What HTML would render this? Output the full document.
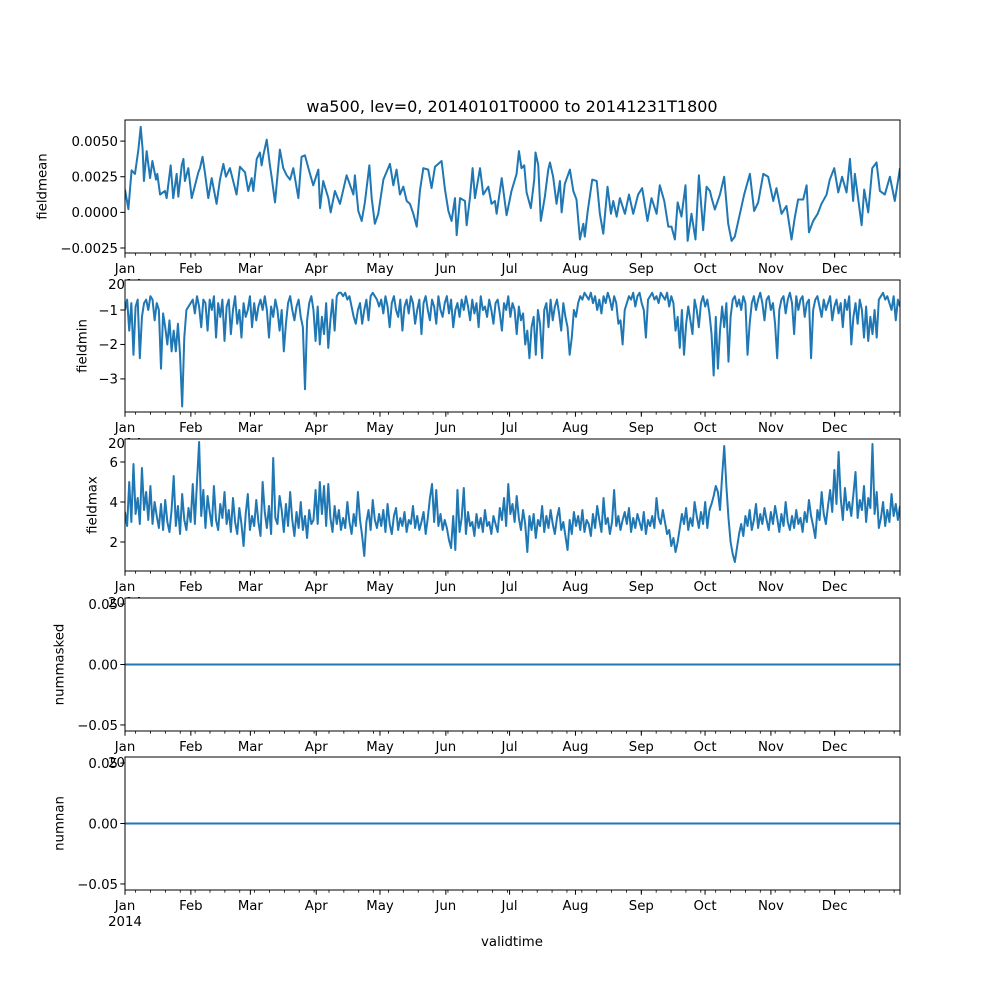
<!DOCTYPE html>
<html><head><meta charset="utf-8"><style>
html,body{margin:0;padding:0;background:#fff;}
svg{display:block;font-family:"DejaVu Sans","Liberation Sans",sans-serif;}
</style></head>
<body>
<svg id="fig" width="1000" height="1000" viewBox="0 0 1000 1000">
<rect width="1000" height="1000" fill="#fff"/>
<text x="512" y="112" font-size="16" text-anchor="middle">wa500, lev=0, 20140101T0000 to 20141231T1800</text>
<text x="512" y="946" font-size="13.3" text-anchor="middle">validtime</text>
</svg>
<script>
// ---- data ----
const monthLabels = ["Jan","Feb","Mar","Apr","May","Jun","Jul","Aug","Sep","Oct","Nov","Dec"];
const monthStartDays = [0,31,59,90,120,151,181,212,243,273,304,334];
const yearLabel = "2014";
const meanDays = [0,1.6,3.1,4.7,6.3,7.4,8.3,8.9,10.2,11.8,12.9,14.6,15.2,16.5,18.8,19.6,21.5,22.7,24.3,25.1,26.7,27.5,28.2,29.8,31.4,34.5,35.3,36.5,37.6,39.2,40.8,43.1,44.7,46.3,47.5,49.4,52.5,54.1,56.5,58.0,59.6,60.4,62.0,63.5,64.3,65.1,66.7,68.2,69.0,70.6,72.9,74.5,76.1,77.7,79.2,81.6,83.1,84.7,86.3,88.6,91.0,91.8,93.3,95.7,96.8,98.8,101.2,104.3,107.5,108.2,109.8,111.4,112.9,115.0,116.1,117.6,119.2,121.6,124.7,126.3,127.8,129.4,131.0,132.6,134.1,135.7,137.3,138.8,140.4,142.7,144.3,145.9,149.0,150.6,152.2,153.7,155.3,156.1,157.7,160.0,160.8,162.4,163.6,164.7,167.1,168.6,171.0,172.5,174.1,174.9,177.3,179.6,181.9,184.3,185.4,186.6,187.9,189.0,191.0,192.6,193.2,194.5,195.7,197.6,199.2,200.0,201.5,203.1,204.7,205.5,207.0,209.4,211.0,212.5,214.1,215.7,216.4,217.7,219.9,222.0,223.5,225.1,227.1,228.7,229.8,231.4,232.9,235.3,237.2,239.2,241.5,243.4,245.9,247.8,250.2,251.7,253.8,255.7,257.2,258.8,260.1,261.9,263.8,264.8,266.6,268.5,270.1,272.1,273.7,275.3,276.1,277.6,280.0,282.0,283.9,285.5,287.0,289.4,291.4,294.1,296.1,298.0,300.4,302.7,305.1,306.6,309.0,311.3,313.7,315.3,316.8,319.2,320.8,321.9,323.9,326.0,327.8,330.2,331.7,333.8,335.7,337.5,339.6,341.2,342.7,343.5,345.1,346.7,347.9,349.8,351.7,353.7,355.3,357.6,360.0,362.3,364.75];
const meanVals = [1.6,0.23,2.95,2.7,4.4,6.0,4.4,2.2,4.3,2.4,3.6,2.3,2.7,1.25,1.5,1.0,3.3,1.0,2.7,1.1,3.3,3.75,2.2,3.1,1.0,2.8,3.1,3.9,2.8,1.0,2.4,0.6,2.3,3.4,2.5,3.1,1.25,3.2,2.8,1.5,2.4,1.5,3.75,4.2,3.3,4.0,5.1,3.3,2.5,0.7,4.4,3.1,2.6,2.3,3.1,1.0,3.9,4.0,3.1,1.9,3.0,0.3,2.2,1.0,0.0,1.5,0.6,2.6,1.25,2.6,0.1,-0.6,0.7,3.3,1.0,-0.8,-0.1,2.3,3.4,1.9,3.0,1.25,1.8,0.8,0.6,-0.1,-1.0,1.5,3.1,3.0,1.7,3.2,3.6,1.6,0.1,-0.6,1.0,-1.6,1.0,0.8,-0.9,1.1,3.1,1.0,3.1,1.25,1.8,0.6,0.8,-0.1,2.4,-0.2,1.5,2.7,4.3,3.1,3.3,1.4,0.3,2.3,4.2,3.3,-0.6,1.1,3.0,3.5,2.5,0.6,2.2,0.0,2.0,3.0,1.5,0.9,-1.9,-0.8,-1.7,0.0,2.3,2.2,-0.1,-1.5,1.8,-0.1,0.8,-0.3,1.0,-0.1,1.25,-0.1,1.25,1.7,-0.6,1.0,-0.1,1.9,0.8,-1.0,-1.0,-1.9,0.7,-0.3,1.9,-2.0,-0.1,-1.9,2.6,-1.25,1.8,1.5,1.0,0.2,1.25,2.5,-0.8,-2.0,-1.7,-0.1,1.25,2.7,0.1,0.7,2.7,2.5,0.8,1.7,-0.1,0.45,-1.9,-0.3,0.9,0.9,1.9,-1.4,-0.6,-0.1,0.6,1.25,2.3,3.1,1.4,2.5,1.4,3.75,0.8,2.7,0.9,-0.9,1.6,0.0,3.1,3.5,1.5,1.25,2.5,0.8,3.1];
const minVals = [-1.0,-0.7,-1.6,-0.8,-2.3,-0.9,-0.7,-2.4,-1.2,-0.8,-0.7,-1.0,-0.6,-0.7,-1.3,-0.8,-1.0,-2.7,-1.1,-1.5,-2.0,-1.3,-2.2,-1.6,-2.2,-1.4,-2.3,-3.8,-1.8,-1.0,-0.9,
-0.8,-0.7,-1.1,-0.6,-0.9,-1.5,-0.7,-0.8,-1.6,-0.7,-1.0,-0.6,-1.8,-0.8,-1.2,-0.7,-1.9,-0.9,-0.7,-1.7,-1.0,-0.6,-1.4,-1.0,-1.8,-0.8,-1.2,-1.0,-0.6,-1.5,
-0.8,-1.3,-0.9,-0.7,-1.0,-0.6,-1.0,-1.8,-0.9,-1.2,-0.7,-1.0,-1.6,-1.0,-2.2,-1.4,-0.8,-0.6,-1.0,-1.3,-0.9,-0.7,-1.2,-1.5,-3.3,-1.3,-0.8,-0.6,-1.0,-1.9,
-0.9,-2.0,-1.2,-1.7,-0.8,-2.1,-1.3,-0.7,-1.6,-0.6,-0.5,-0.5,-0.6,-0.5,-0.7,-0.6,-0.9,-1.2,-1.4,-1.0,-0.8,-1.4,-1.0,-0.7,-1.3,-0.6,-0.5,-0.6,-0.7,-0.9,
-0.7,-1.1,-0.6,-0.9,-1.5,-0.8,-0.6,-1.0,-1.2,-0.7,-1.6,-0.9,-0.7,-1.1,-0.6,-0.8,-1.4,-1.0,-0.7,-1.7,-0.8,-0.6,-1.0,-1.3,-0.7,-0.9,-1.4,-0.6,-1.0,-1.2,
-0.8,-0.6,-1.1,-0.7,-1.5,-1.0,-0.8,-1.2,-0.7,-1.0,-0.6,-0.9,-1.3,-0.7,-1.1,-0.8,-1.5,-0.6,-1.0,-0.9,-1.2,-0.7,-1.0,-1.4,-0.8,-0.7,-1.1,-1.6,-0.8,-1.0,
-0.6,-1.2,-0.8,-1.0,-1.7,-0.9,-1.3,-1.1,-2.0,-1.6,-2.4,-1.5,-1.2,-2.3,-1.0,-1.4,-2.4,-1.0,-0.8,-1.5,-0.7,-1.3,-0.9,-0.7,-1.1,-1.6,-0.8,-1.2,-1.5,-2.3,-1.8,
-1.0,-1.2,-0.8,-0.6,-0.7,-0.5,-0.6,-0.7,-0.5,-0.8,-0.6,-1.0,-0.7,-1.1,-0.6,-0.8,-0.5,-0.7,-1.0,-0.6,-0.8,-1.4,-1.3,-2.0,-1.0,-0.8,-0.6,-0.7,-0.5,-0.9,
-0.6,-0.5,-0.8,-1.0,-1.8,-0.7,-0.6,-0.5,-0.7,-0.6,-0.8,-0.5,-0.6,-0.7,-0.5,-0.9,-0.6,-0.8,-1.6,-1.2,-2.1,-1.0,-2.3,-1.4,-0.9,-1.3,-1.7,-0.7,-1.0,-1.5,-0.8,
-0.6,-0.9,-0.7,-1.1,-1.7,-2.9,-1.2,-2.7,-1.6,-0.9,-1.5,-0.8,-2.5,-1.2,-0.7,-0.6,-0.9,-0.7,-1.0,-0.6,-0.8,-2.3,-1.4,-0.8,-0.6,-1.0,-0.7,-0.5,-0.8,-1.3,
-0.7,-0.6,-1.0,-0.8,-1.4,-2.4,-1.0,-0.7,-0.6,-1.1,-0.7,-0.5,-0.8,-1.7,-0.6,-1.0,-0.7,-0.6,-1.2,-0.8,-0.7,-2.4,-1.0,-0.7,-0.6,-0.9,-1.2,-0.7,-1.0,-0.8,
-0.6,-1.3,-0.9,-0.7,-1.1,-0.8,-1.5,-0.7,-1.0,-0.6,-2.0,-1.2,-0.8,-1.4,-0.7,-1.0,-1.8,-0.9,-1.9,-1.2,-1.7,-1.0,-1.8,-0.7,-0.6,-0.5,-0.7,-0.6,-0.8,-1.0,-0.6,-1.3,-0.7,-0.9];
const maxVals = [3.5,2.8,5.0,3.0,5.9,3.4,4.2,2.9,5.7,3.6,4.5,3.1,4.8,2.9,4.0,3.3,2.7,3.9,2.6,4.1,3.0,2.5,3.6,5.3,2.8,3.8,2.4,4.4,3.1,2.6,3.7,
3.0,4.9,2.9,5.0,7.0,3.3,4.6,2.7,4.3,3.5,2.8,4.8,3.1,2.6,3.9,3.2,4.5,2.9,3.6,2.5,4.2,3.0,2.4,3.7,2.9,1.8,3.4,4.4,2.6,3.3,
2.8,4.1,3.0,2.3,5.0,3.5,2.7,3.8,2.4,6.2,3.2,2.9,4.3,3.6,2.5,3.9,2.8,4.5,3.1,2.3,3.5,2.7,4.0,2.6,3.3,2.2,3.6,2.9,3.1,4.6,
2.9,5.0,3.4,4.8,2.8,4.9,3.2,2.5,3.8,2.9,3.6,2.6,3.2,2.7,4.0,3.0,2.4,3.4,2.8,4.5,3.1,2.3,1.3,3.0,3.6,2.6,4.1,3.1,2.7,3.4,
2.8,3.6,2.5,3.9,2.9,2.4,3.3,3.7,2.6,3.2,2.8,3.5,2.5,3.1,2.9,3.8,2.7,3.3,2.6,3.0,3.5,2.4,3.2,4.2,4.9,3.0,4.6,2.8,3.4,2.6,
3.1,2.7,2.1,1.7,3.3,1.6,4.6,2.5,3.2,4.7,2.4,3.5,2.8,3.0,2.3,3.4,2.7,3.2,2.5,3.6,2.8,3.0,2.4,3.3,2.9,2.5,3.7,3.1,4.2,2.8,4.9,
3.4,3.9,3.0,4.3,3.2,2.6,3.6,2.9,1.5,3.3,2.6,3.4,2.2,3.1,2.8,3.8,2.5,3.3,2.7,3.6,2.9,2.4,3.2,3.7,2.6,3.0,2.3,1.6,3.1,2.4,3.5,
2.8,3.3,2.6,3.6,2.5,3.1,2.9,2.3,3.4,2.7,3.8,3.1,2.5,4.2,2.9,3.2,2.4,3.0,4.6,2.8,3.3,2.6,3.1,3.5,2.9,3.7,2.5,3.2,2.7,3.4,
3.0,2.6,3.5,2.4,3.1,2.8,3.3,2.7,4.2,3.2,2.9,3.6,3.0,2.4,2.6,1.8,2.2,1.5,2.0,2.7,3.4,2.9,3.7,2.6,3.2,2.8,4.0,3.3,2.7,3.5,
2.9,4.0,2.7,3.6,3.9,4.3,4.8,4.5,3.6,5.3,6.8,4.8,3.2,2.0,1.4,1.0,1.7,2.4,2.9,2.3,3.3,2.8,3.6,2.6,3.1,3.9,2.7,3.4,2.9,3.7,
3.1,2.6,3.5,2.9,3.8,3.2,2.5,3.4,2.8,4.0,3.0,2.6,3.3,2.7,3.6,2.9,3.2,2.5,3.5,3.0,4.1,3.3,2.8,2.2,3.6,3.1,4.5,3.4,2.9,3.8,
4.6,3.5,5.6,3.9,6.5,4.2,3.1,4.7,3.6,4.0,3.3,4.4,5.5,3.2,4.1,3.6,4.8,3.0,4.2,3.7,6.9,3.4,4.5,2.7,3.2,4.0,2.8,3.6,3.0,4.4,3.3,3.9,3.1,3.8];
const maskedVals = [0,0];
const nanVals = [0,0];
const meanTicks = [0.005,0.0025,0,-0.0025];
const meanTickLabels = ["0.0050","0.0025","0.0000","\u22120.0025"];
const minTicks = [-1,-2,-3];
const minTickLabels = ["\u22121","\u22122","\u22123"];
const maxTicks = [2,4,6];
const maxTickLabels = ["2","4","6"];
const numTicks = [0.05,0,-0.05];
const numTickLabels = ["0.05","0.00","\u22120.05"];

// ---- drawing ----
const NS = "http://www.w3.org/2000/svg";
const svg = document.getElementById("fig");
const X0 = 125, X1 = 900, DMAX = 364.75;
const xScale = d => X0 + d / DMAX * (X1 - X0);
function mk(tag, attrs, parent) {
  const e = document.createElementNS(NS, tag);
  for (const k in attrs) e.setAttribute(k, attrs[k]);
  (parent || svg).appendChild(e);
  return e;
}
const panels = [
  {name:"fieldmean", top:120, bottom:253, vmin:-0.00285, vmax:0.00648, ticks:meanTicks, labels:meanTickLabels, labelX:42,
   days:meanDays, vals:meanVals.map(v=>v/1000)},
  {name:"fieldmin", top:280, bottom:412, vmin:-3.96, vmax:-0.13, ticks:minTicks, labels:minTickLabels, labelX:82, vals:minVals},
  {name:"fieldmax", top:439, bottom:571, vmin:0.55, vmax:7.15, ticks:maxTicks, labels:maxTickLabels, labelX:92, vals:maxVals},
  {name:"nummasked", top:598, bottom:731, vmin:-0.055, vmax:0.055, ticks:numTicks, labels:numTickLabels, labelX:59, vals:maskedVals},
  {name:"numnan", top:757, bottom:890, vmin:-0.055, vmax:0.055, ticks:numTicks, labels:numTickLabels, labelX:59, vals:nanVals}
];
panels.forEach(p => {
  const g = mk("g", {});
  
  
  const yScale = v => p.bottom - (v - p.vmin) / (p.vmax - p.vmin) * (p.bottom - p.top);
  const bg = mk("rect", {x:X0, y:p.top, width:X1-X0, height:p.bottom-p.top, fill:"#fff"}, g);
  
  
  const n = p.vals.length;
  const days = p.days || p.vals.map((v,i)=> i * DMAX / (n-1));
  let d = "";
  p.vals.forEach((v,i)=>{ d += (i?"L":"M") + xScale(days[i]).toFixed(2) + "," + yScale(v).toFixed(2); });
  const clip = mk("clipPath", {id:"clip-"+p.name}, g);
  mk("rect", {x:X0, y:p.top, width:X1-X0, height:p.bottom-p.top}, clip);
  const line = mk("path", {d:d, fill:"none", stroke:"#1f77b4", "stroke-width":2, "stroke-linejoin":"round", "clip-path":"url(#clip-"+p.name+")"}, g);
  
  
  const fr = mk("rect", {x:X0, y:p.top, width:X1-X0, height:p.bottom-p.top, fill:"none", stroke:"#000", "stroke-width":1}, g);
  
  
  p.ticks.forEach((t,i)=>{
    const y = yScale(t);
    mk("line", {x1:X0-4.7, x2:X0, y1:y, y2:y, stroke:"#000", "stroke-width":1}, g);
    const tl = mk("text", {x:X0-7, y:y+4.8, "font-size":13.3, "text-anchor":"end"}, g);
    tl.textContent = p.labels[i];
    
    
  });
  for (let wd = 5; wd < DMAX; wd += 7) {
    const x = xScale(wd);
    mk("line", {x1:x, x2:x, y1:p.bottom, y2:p.bottom+2.7, stroke:"#000", "stroke-width":0.8}, g);
  }
  monthStartDays.forEach((md,i)=>{
    const x = xScale(md);
    mk("line", {x1:x, x2:x, y1:p.bottom, y2:p.bottom+4.7, stroke:"#000", "stroke-width":1}, g);
    const ml = mk("text", {x:x, y:p.bottom+20, "font-size":13.3, "text-anchor":"middle"}, g);
    ml.textContent = monthLabels[i];
    
    
  });
  mk("line", {x1:X1, x2:X1, y1:p.bottom, y2:p.bottom+4.7, stroke:"#000", "stroke-width":1}, g);
  const yr = mk("text", {x:xScale(0), y:p.bottom+36, "font-size":13.3, "text-anchor":"middle"}, g);
  yr.textContent = yearLabel;
  
  
  const cy = (p.top + p.bottom) / 2;
  const yt = mk("text", {x:p.labelX, y:cy, "font-size":13.3, "text-anchor":"middle", transform:"rotate(-90 "+p.labelX+" "+cy+")", dy:"0.35em"}, g);
  yt.textContent = p.name;
  
  
});
</script>
</body></html>
